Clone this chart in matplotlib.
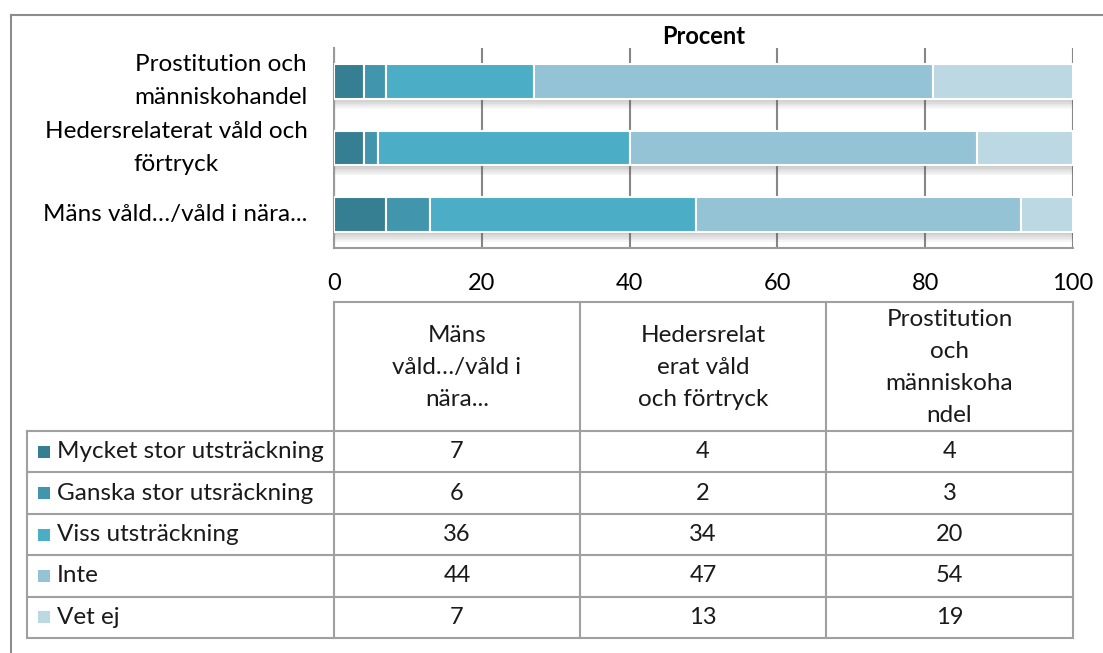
import numpy as np
import matplotlib.pyplot as plt
from matplotlib.patches import Rectangle

plt.rcParams['font.family'] = ['Lato', 'DejaVu Sans']

# categories, bottom-to-top in the chart
categories = ['Mäns våld…/våld i nära...',
              'Hedersrelaterat våld och\nförtryck',
              'Prostitution och\nmänniskohandel']
# column headers in the table (same order as categories)
col_headers = ['Mäns\nvåld…/våld i\nnära...',
               'Hedersrelat\nerat våld\noch förtryck',
               'Prostitution\noch\nmänniskoha\nndel']
series = ['Mycket stor utsträckning', 'Ganska stor utsräckning',
          'Viss utsträckning', 'Inte', 'Vet ej']
mycket = [7, 4, 4]
ganska = [6, 2, 3]
viss = [36, 34, 20]
inte = [44, 47, 54]
vet_ej = [7, 13, 19]
values = [mycket, ganska, viss, inte, vet_ej]
colors = ['#367e91', '#4196ae', '#4badc6', '#93c3d4', '#bcd8e3']
xticks = [0, 20, 40, 60, 80, 100]

W, H = 1103, 653
fig = plt.figure(figsize=(W / 100, H / 100), dpi=100)

# overlay in pixel coords for frame + table
over = fig.add_axes([0, 0, 1, 1], zorder=0)
over.set_xlim(0, W)
over.set_ylim(H, 0)
over.axis('off')
over.patch.set_alpha(0)
frame_c = '#8c8c8c'
over.plot([11, W], [15, 15], color=frame_c, lw=1.5)
over.plot([11, 11], [15, H], color=frame_c, lw=1.5)

# bar chart
ax = fig.add_axes([334 / W, 1 - 248 / H, (1073 - 334) / W, 200 / H], zorder=2)
ax.patch.set_alpha(0)
y = np.arange(len(categories))
bh = 0.52
left = np.zeros(len(categories))
for vals, c in zip(values, colors):
    ax.barh(y, vals, left=left, height=bh, color=c, edgecolor='white',
            linewidth=1.5, zorder=3)
    left += vals
# soft shadow under each bar
for k in range(6):
    ax.barh(y - bh / 2 - 0.025 * (k + 0.5), left, height=0.025,
            color='#505050', alpha=0.3 * (1 - k / 6), linewidth=0, zorder=2)

ax.set_xlim(0, 100)
ax.set_ylim(-0.5, 2.5)
ax.set_xticks(xticks)
ax.set_yticks(y)
ax.set_yticklabels(categories, multialignment='center', linespacing=1.7,
                   va='center')
ax.tick_params(axis='y', length=0, pad=19, labelsize=17.5)
ax.tick_params(axis='x', length=0, pad=18, labelsize=17)
ax.xaxis.grid(True, color='#868686', lw=1.5, zorder=0)
ax.set_axisbelow(True)
for s in ['top', 'right']:
    ax.spines[s].set_visible(False)
for s in ['left', 'bottom']:
    ax.spines[s].set_color('#9a9a9a')
    ax.spines[s].set_linewidth(1.5)
ax.set_title('Procent', fontsize=17, fontweight='bold', pad=3)

# data table below
line_c = '#a0a0a0'
col_x = [334, 580, 826, 1073]
label_x0 = 27
head_top, head_bot = 302, 431
row_h = (638 - 431) / len(series)
row_y = [head_bot + i * row_h for i in range(len(series) + 1)]

over.plot([col_x[0], col_x[-1]], [head_top, head_top], color=line_c, lw=1.5)
for cx in col_x:
    over.plot([cx, cx], [head_top, row_y[-1]], color=line_c, lw=1.5)
over.plot([label_x0, label_x0], [head_bot, row_y[-1]], color=line_c, lw=1.5)
for ry in row_y:
    over.plot([label_x0, col_x[-1]], [ry, ry], color=line_c, lw=1.5)
for j, hdr in enumerate(col_headers):
    over.text((col_x[j] + col_x[j + 1]) / 2, (head_top + head_bot) / 2 + 1, hdr,
              ha='center', va='center', fontsize=17.5, linespacing=1.65,
              color='#1a1a1a')
for i, (name, c) in enumerate(zip(series, colors)):
    yc = row_y[i] + row_h / 2
    over.add_patch(Rectangle((38, yc - 6), 12, 12, facecolor=c,
                             edgecolor='none'))
    over.text(57, yc, name, ha='left', va='center', fontsize=17.5,
              color='#1a1a1a')
    for j in range(len(categories)):
        over.text((col_x[j] + col_x[j + 1]) / 2, yc, str(values[i][j]),
                  ha='center', va='center', fontsize=17, color='#1a1a1a')

fig.savefig('out.png', dpi=100)
